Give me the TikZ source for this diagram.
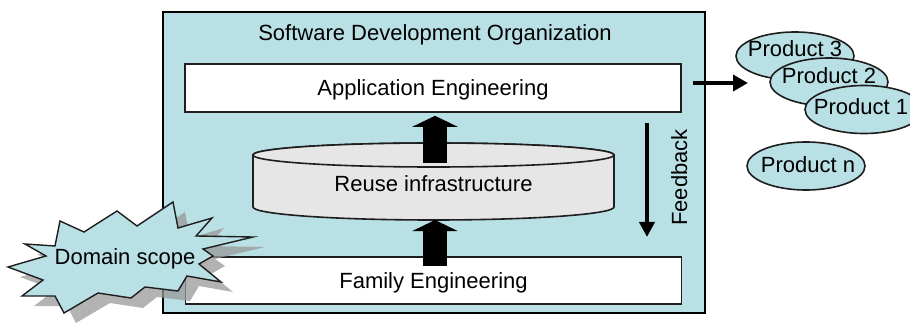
\documentclass[tikz,border=0pt]{standalone}
\usepackage{fontspec}
\setmainfont{Liberation Sans}
\usetikzlibrary{arrows.meta,shapes.geometric}
\definecolor{orgcyan}{RGB}{185,224,228}
\definecolor{infragray}{RGB}{230,230,230}
\definecolor{edge}{RGB}{30,30,30}

\begin{document}
\begin{tikzpicture}[x=1pt,y=-1pt,
  every node/.style={font=\fontsize{22}{26}\selectfont},
  lbl/.style={inner sep=0pt, text height=16pt, text depth=0pt},
  panel/.style={draw=edge, line width=1.6pt, fill=white, minimum width=496pt,
    minimum height=48pt, inner sep=0pt, text height=16pt, text depth=0pt},
  prod/.style={ellipse, draw=edge, line width=1.6pt, fill=orgcyan,
    minimum width=118pt, minimum height=48pt, inner sep=0pt},
  bigarrow/.style={line width=24pt, -{Triangle[width=45pt,length=11pt]}},
  thinarrow/.style={line width=4.5pt, -{Triangle[width=15pt,length=15pt]}},
  burst/.style={draw=edge, line width=1.4pt, fill=orgcyan, line join=miter},
]
\useasboundingbox (0,0) rectangle (910,323);

% organization frame
\node[draw=black, line width=2.2pt, fill=orgcyan, minimum width=542pt,
  minimum height=301pt, inner sep=0pt] (org) at (434,162.5) {};
\node[lbl] (title) at (435,33) {Software Development Organization};

% engineering layers
\node[panel] (app) at (433,88) {Application Engineering};
\node[panel, minimum height=47pt] (fam) at (433.5,280.5) {Family Engineering};

% reuse infrastructure drum
\path[draw=edge, line width=1.6pt, fill=infragray]
  (253,155) -- (253,207)
  arc[start angle=180, end angle=360, x radius=180.5pt, y radius=13pt]
  -- (614,155)
  arc[start angle=0, end angle=180, x radius=180.5pt, y radius=12pt] -- cycle;
\draw[edge, line width=1.6pt, fill=infragray]
  (433.5,155) ellipse[x radius=180.5pt, y radius=12pt];
\node[lbl] (reuse) at (433.5,184) {Reuse infrastructure};
\coordinate (reuseTop) at (435,163);
\coordinate (reuseBot) at (435,220);

% flows between layers
\draw[bigarrow] (reuseTop) -- ([yshift=-3pt]reuseTop |- app.south);
\draw[bigarrow] ([yshift=-10pt]reuseBot |- fam.north) -- (reuseBot);

% feedback
\coordinate (fbStart) at (647,123);
\coordinate (fbEnd) at (647,237);
\draw[thinarrow] (fbStart) -- (fbEnd);
\node[lbl, rotate=90] (fb) at (679,177.5) {Feedback};

% domain scope burst with its shadow
\def\burstpath{(8,267) -- (46,256) -- (25,244) -- (55,246) -- (60,221) -- (84,232)
  -- (117,211) -- (137,226) -- (173,202) -- (178,228) -- (212,218) -- (196,236)
  -- (253,237) -- (203,249) -- (213,256) -- (199,264) -- (221,282) -- (187,276)
  -- (178,291) -- (145,287) -- (131,298) -- (98,293) -- (64,313) -- (55,296)
  -- (22,296) -- (43,280) -- cycle}
\begin{scope}[shift={(12,10)}]
  \fill[black!40, opacity=0.75] \burstpath;
\end{scope}
\path[burst] \burstpath;
\node[lbl] (scope) at (125,256) {Domain scope};

% delivered products
\coordinate (outStart) at (693,83);
\coordinate (outEnd) at (748,83);
\draw[line width=4.5pt, -{Triangle[width=16pt,length=15pt]}] (outStart) -- (outEnd);

\node[prod] (p3) at (795,56) {};
\node[lbl] (p3t) at ([yshift=7pt]p3.center) {Product 3};
\node[prod] (p2) at (829,82) {};
\node[lbl] (p2t) at ([yshift=6pt]p2.center) {Product 2};
\node[prod] (p1) at (864,109.5) {};
\node[lbl] (p1t) at ([yshift=3pt,xshift=-3pt]p1.center) {Product 1};
\node[prod] (pn) at (806,166) {};
\node[lbl] (pnt) at ([yshift=1pt,xshift=2pt]pn.center) {Product n};
\end{tikzpicture}
\end{document}
